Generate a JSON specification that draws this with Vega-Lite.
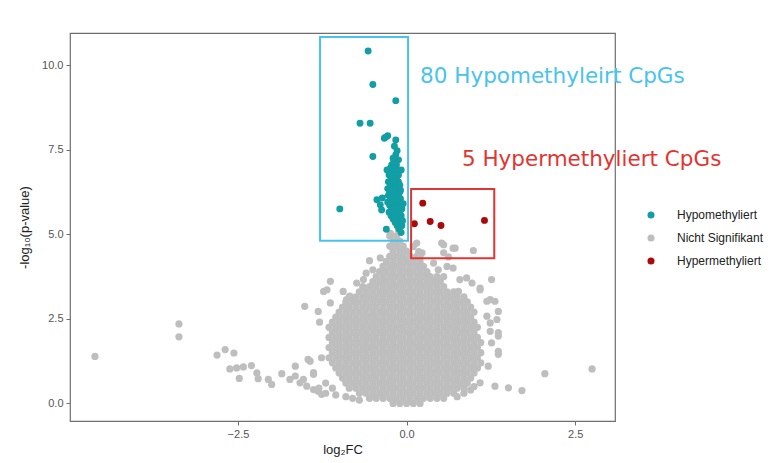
{
"$schema":"https://vega.github.io/schema/vega-lite/v6.json",
"width":545,"height":388,
"autosize":{"type":"none"},
"padding":{"left":70,"top":33,"right":163,"bottom":42},
"background":"white",
"config":{
 "view":{"stroke":"#6e6e6e","strokeWidth":1.2},
 "font":"Liberation Sans",
 "axis":{"domain":false,"grid":false,"tickColor":"#6e6e6e","tickSize":4,"labelColor":"#555555","labelFontSize":11,"titleFontSize":13,"titleFontWeight":"normal","titleColor":"#222222","labelPadding":3}
},
"datasets":{
"ns":[
{"x":-0.2,"y":0},{"x":-0.1,"y":0},{"x":0,"y":0},{"x":0.1,"y":0},{"x":0.2,"y":0},
{"x":-0.55,"y":0.15},{"x":-0.45,"y":0.15},{"x":-0.35,"y":0.15},{"x":-0.25,"y":0.15},{"x":-0.15,"y":0.15},{"x":-0.05,"y":0.15},{"x":0.05,"y":0.15},{"x":0.15,"y":0.15},{"x":0.25,"y":0.15},{"x":0.35,"y":0.15},{"x":0.45,"y":0.15},{"x":0.55,"y":0.15},
{"x":-0.7,"y":0.3},{"x":-0.6,"y":0.3},{"x":-0.5,"y":0.3},{"x":-0.4,"y":0.3},{"x":-0.3,"y":0.3},{"x":-0.2,"y":0.3},{"x":-0.1,"y":0.3},{"x":0,"y":0.3},{"x":0.1,"y":0.3},{"x":0.2,"y":0.3},{"x":0.3,"y":0.3},{"x":0.4,"y":0.3},{"x":0.5,"y":0.3},{"x":0.6,"y":0.3},{"x":0.7,"y":0.3},
{"x":-0.85,"y":0.45},{"x":-0.75,"y":0.45},{"x":-0.65,"y":0.45},{"x":-0.55,"y":0.45},{"x":-0.45,"y":0.45},{"x":-0.35,"y":0.45},{"x":-0.25,"y":0.45},{"x":-0.15,"y":0.45},{"x":-0.05,"y":0.45},{"x":0.05,"y":0.45},{"x":0.15,"y":0.45},{"x":0.25,"y":0.45},{"x":0.35,"y":0.45},{"x":0.45,"y":0.45},{"x":0.55,"y":0.45},{"x":0.65,"y":0.45},{"x":0.75,"y":0.45},{"x":0.85,"y":0.45},
{"x":-0.9,"y":0.6},{"x":-0.8,"y":0.6},{"x":-0.7,"y":0.6},{"x":-0.6,"y":0.6},{"x":-0.5,"y":0.6},{"x":-0.4,"y":0.6},{"x":-0.3,"y":0.6},{"x":-0.2,"y":0.6},{"x":-0.1,"y":0.6},{"x":0,"y":0.6},{"x":0.1,"y":0.6},{"x":0.2,"y":0.6},{"x":0.3,"y":0.6},{"x":0.4,"y":0.6},{"x":0.5,"y":0.6},{"x":0.6,"y":0.6},{"x":0.7,"y":0.6},{"x":0.8,"y":0.6},{"x":0.9,"y":0.6},
{"x":-0.95,"y":0.75},{"x":-0.85,"y":0.75},{"x":-0.75,"y":0.75},{"x":-0.65,"y":0.75},{"x":-0.55,"y":0.75},{"x":-0.45,"y":0.75},{"x":-0.35,"y":0.75},{"x":-0.25,"y":0.75},{"x":-0.15,"y":0.75},{"x":-0.05,"y":0.75},{"x":0.05,"y":0.75},{"x":0.15,"y":0.75},{"x":0.25,"y":0.75},{"x":0.35,"y":0.75},{"x":0.45,"y":0.75},{"x":0.55,"y":0.75},{"x":0.65,"y":0.75},{"x":0.75,"y":0.75},{"x":0.85,"y":0.75},{"x":0.95,"y":0.75},
{"x":-1,"y":0.9},{"x":-0.9,"y":0.9},{"x":-0.8,"y":0.9},{"x":-0.7,"y":0.9},{"x":-0.6,"y":0.9},{"x":-0.5,"y":0.9},{"x":-0.4,"y":0.9},{"x":-0.3,"y":0.9},{"x":-0.2,"y":0.9},{"x":-0.1,"y":0.9},{"x":0,"y":0.9},{"x":0.1,"y":0.9},{"x":0.2,"y":0.9},{"x":0.3,"y":0.9},{"x":0.4,"y":0.9},{"x":0.5,"y":0.9},{"x":0.6,"y":0.9},{"x":0.7,"y":0.9},{"x":0.8,"y":0.9},{"x":0.9,"y":0.9},{"x":1,"y":0.9},
{"x":-1.05,"y":1.05},{"x":-0.95,"y":1.05},{"x":-0.85,"y":1.05},{"x":-0.75,"y":1.05},{"x":-0.65,"y":1.05},{"x":-0.55,"y":1.05},{"x":-0.45,"y":1.05},{"x":-0.35,"y":1.05},{"x":-0.25,"y":1.05},{"x":-0.15,"y":1.05},{"x":-0.05,"y":1.05},{"x":0.05,"y":1.05},{"x":0.15,"y":1.05},{"x":0.25,"y":1.05},{"x":0.35,"y":1.05},{"x":0.45,"y":1.05},{"x":0.55,"y":1.05},{"x":0.65,"y":1.05},{"x":0.75,"y":1.05},{"x":0.85,"y":1.05},{"x":0.95,"y":1.05},{"x":1.05,"y":1.05},
{"x":-1.1,"y":1.2},{"x":-1,"y":1.2},{"x":-0.9,"y":1.2},{"x":-0.8,"y":1.2},{"x":-0.7,"y":1.2},{"x":-0.6,"y":1.2},{"x":-0.5,"y":1.2},{"x":-0.4,"y":1.2},{"x":-0.3,"y":1.2},{"x":-0.2,"y":1.2},{"x":-0.1,"y":1.2},{"x":0,"y":1.2},{"x":0.1,"y":1.2},{"x":0.2,"y":1.2},{"x":0.3,"y":1.2},{"x":0.4,"y":1.2},{"x":0.5,"y":1.2},{"x":0.6,"y":1.2},{"x":0.7,"y":1.2},{"x":0.8,"y":1.2},{"x":0.9,"y":1.2},{"x":1,"y":1.2},{"x":1.1,"y":1.2},
{"x":-1.15,"y":1.35},{"x":-1.05,"y":1.35},{"x":-0.95,"y":1.35},{"x":-0.85,"y":1.35},{"x":-0.75,"y":1.35},{"x":-0.65,"y":1.35},{"x":-0.55,"y":1.35},{"x":-0.45,"y":1.35},{"x":-0.35,"y":1.35},{"x":-0.25,"y":1.35},{"x":-0.15,"y":1.35},{"x":-0.05,"y":1.35},{"x":0.05,"y":1.35},{"x":0.15,"y":1.35},{"x":0.25,"y":1.35},{"x":0.35,"y":1.35},{"x":0.45,"y":1.35},{"x":0.55,"y":1.35},{"x":0.65,"y":1.35},{"x":0.75,"y":1.35},{"x":0.85,"y":1.35},{"x":0.95,"y":1.35},{"x":1.05,"y":1.35},
{"x":-1.1,"y":1.5},{"x":-1,"y":1.5},{"x":-0.9,"y":1.5},{"x":-0.8,"y":1.5},{"x":-0.7,"y":1.5},{"x":-0.6,"y":1.5},{"x":-0.5,"y":1.5},{"x":-0.4,"y":1.5},{"x":-0.3,"y":1.5},{"x":-0.2,"y":1.5},{"x":-0.1,"y":1.5},{"x":0,"y":1.5},{"x":0.1,"y":1.5},{"x":0.2,"y":1.5},{"x":0.3,"y":1.5},{"x":0.4,"y":1.5},{"x":0.5,"y":1.5},{"x":0.6,"y":1.5},{"x":0.7,"y":1.5},{"x":0.8,"y":1.5},{"x":0.9,"y":1.5},{"x":1,"y":1.5},{"x":1.1,"y":1.5},
{"x":-1.15,"y":1.65},{"x":-1.05,"y":1.65},{"x":-0.95,"y":1.65},{"x":-0.85,"y":1.65},{"x":-0.75,"y":1.65},{"x":-0.65,"y":1.65},{"x":-0.55,"y":1.65},{"x":-0.45,"y":1.65},{"x":-0.35,"y":1.65},{"x":-0.25,"y":1.65},{"x":-0.15,"y":1.65},{"x":-0.05,"y":1.65},{"x":0.05,"y":1.65},{"x":0.15,"y":1.65},{"x":0.25,"y":1.65},{"x":0.35,"y":1.65},{"x":0.45,"y":1.65},{"x":0.55,"y":1.65},{"x":0.65,"y":1.65},{"x":0.75,"y":1.65},{"x":0.85,"y":1.65},{"x":0.95,"y":1.65},{"x":1.05,"y":1.65},
{"x":-1.1,"y":1.8},{"x":-1,"y":1.8},{"x":-0.9,"y":1.8},{"x":-0.8,"y":1.8},{"x":-0.7,"y":1.8},{"x":-0.6,"y":1.8},{"x":-0.5,"y":1.8},{"x":-0.4,"y":1.8},{"x":-0.3,"y":1.8},{"x":-0.2,"y":1.8},{"x":-0.1,"y":1.8},{"x":0,"y":1.8},{"x":0.1,"y":1.8},{"x":0.2,"y":1.8},{"x":0.3,"y":1.8},{"x":0.4,"y":1.8},{"x":0.5,"y":1.8},{"x":0.6,"y":1.8},{"x":0.7,"y":1.8},{"x":0.8,"y":1.8},{"x":0.9,"y":1.8},{"x":1,"y":1.8},{"x":1.1,"y":1.8},
{"x":-1.15,"y":1.95},{"x":-1.05,"y":1.95},{"x":-0.95,"y":1.95},{"x":-0.85,"y":1.95},{"x":-0.75,"y":1.95},{"x":-0.65,"y":1.95},{"x":-0.55,"y":1.95},{"x":-0.45,"y":1.95},{"x":-0.35,"y":1.95},{"x":-0.25,"y":1.95},{"x":-0.15,"y":1.95},{"x":-0.05,"y":1.95},{"x":0.05,"y":1.95},{"x":0.15,"y":1.95},{"x":0.25,"y":1.95},{"x":0.35,"y":1.95},{"x":0.45,"y":1.95},{"x":0.55,"y":1.95},{"x":0.65,"y":1.95},{"x":0.75,"y":1.95},{"x":0.85,"y":1.95},{"x":0.95,"y":1.95},{"x":1.05,"y":1.95},
{"x":-1.1,"y":2.1},{"x":-1,"y":2.1},{"x":-0.9,"y":2.1},{"x":-0.8,"y":2.1},{"x":-0.7,"y":2.1},{"x":-0.6,"y":2.1},{"x":-0.5,"y":2.1},{"x":-0.4,"y":2.1},{"x":-0.3,"y":2.1},{"x":-0.2,"y":2.1},{"x":-0.1,"y":2.1},{"x":0,"y":2.1},{"x":0.1,"y":2.1},{"x":0.2,"y":2.1},{"x":0.3,"y":2.1},{"x":0.4,"y":2.1},{"x":0.5,"y":2.1},{"x":0.6,"y":2.1},{"x":0.7,"y":2.1},{"x":0.8,"y":2.1},{"x":0.9,"y":2.1},{"x":1,"y":2.1},
{"x":-1.15,"y":2.25},{"x":-1.05,"y":2.25},{"x":-0.95,"y":2.25},{"x":-0.85,"y":2.25},{"x":-0.75,"y":2.25},{"x":-0.65,"y":2.25},{"x":-0.55,"y":2.25},{"x":-0.45,"y":2.25},{"x":-0.35,"y":2.25},{"x":-0.25,"y":2.25},{"x":-0.15,"y":2.25},{"x":-0.05,"y":2.25},{"x":0.05,"y":2.25},{"x":0.15,"y":2.25},{"x":0.25,"y":2.25},{"x":0.35,"y":2.25},{"x":0.45,"y":2.25},{"x":0.55,"y":2.25},{"x":0.65,"y":2.25},{"x":0.75,"y":2.25},{"x":0.85,"y":2.25},{"x":0.95,"y":2.25},{"x":1.05,"y":2.25},
{"x":-1.1,"y":2.4},{"x":-1,"y":2.4},{"x":-0.9,"y":2.4},{"x":-0.8,"y":2.4},{"x":-0.7,"y":2.4},{"x":-0.6,"y":2.4},{"x":-0.5,"y":2.4},{"x":-0.4,"y":2.4},{"x":-0.3,"y":2.4},{"x":-0.2,"y":2.4},{"x":-0.1,"y":2.4},{"x":0,"y":2.4},{"x":0.1,"y":2.4},{"x":0.2,"y":2.4},{"x":0.3,"y":2.4},{"x":0.4,"y":2.4},{"x":0.5,"y":2.4},{"x":0.6,"y":2.4},{"x":0.7,"y":2.4},{"x":0.8,"y":2.4},{"x":0.9,"y":2.4},{"x":1,"y":2.4},
{"x":-1.05,"y":2.55},{"x":-0.95,"y":2.55},{"x":-0.85,"y":2.55},{"x":-0.75,"y":2.55},{"x":-0.65,"y":2.55},{"x":-0.55,"y":2.55},{"x":-0.45,"y":2.55},{"x":-0.35,"y":2.55},{"x":-0.25,"y":2.55},{"x":-0.15,"y":2.55},{"x":-0.05,"y":2.55},{"x":0.05,"y":2.55},{"x":0.15,"y":2.55},{"x":0.25,"y":2.55},{"x":0.35,"y":2.55},{"x":0.45,"y":2.55},{"x":0.55,"y":2.55},{"x":0.65,"y":2.55},{"x":0.75,"y":2.55},{"x":0.85,"y":2.55},{"x":0.95,"y":2.55},
{"x":-1,"y":2.7},{"x":-0.9,"y":2.7},{"x":-0.8,"y":2.7},{"x":-0.7,"y":2.7},{"x":-0.6,"y":2.7},{"x":-0.5,"y":2.7},{"x":-0.4,"y":2.7},{"x":-0.3,"y":2.7},{"x":-0.2,"y":2.7},{"x":-0.1,"y":2.7},{"x":0,"y":2.7},{"x":0.1,"y":2.7},{"x":0.2,"y":2.7},{"x":0.3,"y":2.7},{"x":0.4,"y":2.7},{"x":0.5,"y":2.7},{"x":0.6,"y":2.7},{"x":0.7,"y":2.7},{"x":0.8,"y":2.7},{"x":0.9,"y":2.7},{"x":1,"y":2.7},
{"x":-0.95,"y":2.85},{"x":-0.85,"y":2.85},{"x":-0.75,"y":2.85},{"x":-0.65,"y":2.85},{"x":-0.55,"y":2.85},{"x":-0.45,"y":2.85},{"x":-0.35,"y":2.85},{"x":-0.25,"y":2.85},{"x":-0.15,"y":2.85},{"x":-0.05,"y":2.85},{"x":0.05,"y":2.85},{"x":0.15,"y":2.85},{"x":0.25,"y":2.85},{"x":0.35,"y":2.85},{"x":0.45,"y":2.85},{"x":0.55,"y":2.85},{"x":0.65,"y":2.85},{"x":0.75,"y":2.85},{"x":0.85,"y":2.85},{"x":0.95,"y":2.85},
{"x":-0.9,"y":3},{"x":-0.8,"y":3},{"x":-0.7,"y":3},{"x":-0.6,"y":3},{"x":-0.5,"y":3},{"x":-0.4,"y":3},{"x":-0.3,"y":3},{"x":-0.2,"y":3},{"x":-0.1,"y":3},{"x":0,"y":3},{"x":0.1,"y":3},{"x":0.2,"y":3},{"x":0.3,"y":3},{"x":0.4,"y":3},{"x":0.5,"y":3},{"x":0.6,"y":3},{"x":0.7,"y":3},{"x":0.8,"y":3},{"x":0.9,"y":3},
{"x":-0.85,"y":3.15},{"x":-0.75,"y":3.15},{"x":-0.65,"y":3.15},{"x":-0.55,"y":3.15},{"x":-0.45,"y":3.15},{"x":-0.35,"y":3.15},{"x":-0.25,"y":3.15},{"x":-0.15,"y":3.15},{"x":-0.05,"y":3.15},{"x":0.05,"y":3.15},{"x":0.15,"y":3.15},{"x":0.25,"y":3.15},{"x":0.35,"y":3.15},{"x":0.45,"y":3.15},{"x":0.55,"y":3.15},{"x":0.65,"y":3.15},{"x":0.75,"y":3.15},{"x":0.85,"y":3.15},
{"x":-0.7,"y":3.3},{"x":-0.6,"y":3.3},{"x":-0.5,"y":3.3},{"x":-0.4,"y":3.3},{"x":-0.3,"y":3.3},{"x":-0.2,"y":3.3},{"x":-0.1,"y":3.3},{"x":0,"y":3.3},{"x":0.1,"y":3.3},{"x":0.2,"y":3.3},{"x":0.3,"y":3.3},{"x":0.4,"y":3.3},{"x":0.5,"y":3.3},{"x":0.6,"y":3.3},{"x":0.7,"y":3.3},
{"x":-0.65,"y":3.45},{"x":-0.55,"y":3.45},{"x":-0.45,"y":3.45},{"x":-0.35,"y":3.45},{"x":-0.25,"y":3.45},{"x":-0.15,"y":3.45},{"x":-0.05,"y":3.45},{"x":0.05,"y":3.45},{"x":0.15,"y":3.45},{"x":0.25,"y":3.45},{"x":0.35,"y":3.45},{"x":0.45,"y":3.45},{"x":0.55,"y":3.45},
{"x":-0.5,"y":3.6},{"x":-0.4,"y":3.6},{"x":-0.3,"y":3.6},{"x":-0.2,"y":3.6},{"x":-0.1,"y":3.6},{"x":0,"y":3.6},{"x":0.1,"y":3.6},{"x":0.2,"y":3.6},{"x":0.3,"y":3.6},{"x":0.4,"y":3.6},{"x":0.5,"y":3.6},
{"x":-0.45,"y":3.75},{"x":-0.35,"y":3.75},{"x":-0.25,"y":3.75},{"x":-0.15,"y":3.75},{"x":-0.05,"y":3.75},{"x":0.05,"y":3.75},{"x":0.15,"y":3.75},{"x":0.25,"y":3.75},{"x":0.35,"y":3.75},{"x":0.45,"y":3.75},
{"x":-0.4,"y":3.9},{"x":-0.3,"y":3.9},{"x":-0.2,"y":3.9},{"x":-0.1,"y":3.9},{"x":0,"y":3.9},{"x":0.1,"y":3.9},{"x":0.2,"y":3.9},{"x":0.3,"y":3.9},
{"x":-0.35,"y":4.05},{"x":-0.25,"y":4.05},{"x":-0.15,"y":4.05},{"x":-0.05,"y":4.05},{"x":0.05,"y":4.05},{"x":0.15,"y":4.05},{"x":0.25,"y":4.05},
{"x":-0.3,"y":4.2},{"x":-0.2,"y":4.2},{"x":-0.1,"y":4.2},{"x":0,"y":4.2},{"x":0.1,"y":4.2},{"x":0.2,"y":4.2},
{"x":-0.25,"y":4.35},{"x":-0.15,"y":4.35},{"x":-0.05,"y":4.35},{"x":0.05,"y":4.35},{"x":0.15,"y":4.35},
{"x":-0.2,"y":4.5},{"x":-0.1,"y":4.5},{"x":0,"y":4.5},
{"x":-0.25,"y":4.65},{"x":-0.15,"y":4.65},{"x":-0.05,"y":4.65},
{"x":-0.2,"y":4.8},{"x":-0.1,"y":4.8},
{"x":-0.25,"y":4.95},{"x":-0.15,"y":4.95},
{"x":-4.62,"y":1.39},
{"x":-3.375,"y":2.35},{"x":-3.375,"y":1.97},
{"x":-2.81,"y":1.43},{"x":-2.69,"y":1.59},{"x":-2.56,"y":1.49},
{"x":-2.62,"y":1.02},{"x":-2.52,"y":1.05},{"x":-2.42,"y":1.08},{"x":-2.3,"y":1.12},
{"x":-2.48,"y":0.74},{"x":-2.22,"y":0.9},{"x":-2.2,"y":0.73},{"x":-2.05,"y":0.71},{"x":-2,"y":0.56},
{"x":-1.85,"y":0.88},{"x":-1.73,"y":0.71},{"x":-1.65,"y":0.81},{"x":-1.58,"y":0.61},
{"x":-1.51,"y":2.87},{"x":-1.46,"y":1.3},{"x":-1.38,"y":0.86},{"x":-1.48,"y":0.51},{"x":-1.38,"y":0.41},{"x":-1.31,"y":0.36},{"x":-1.26,"y":0.27},
{"x":-1.31,"y":2.72},{"x":-1.29,"y":2.4},{"x":-1.26,"y":1.35},{"x":-1.23,"y":3.31},{"x":-1.18,"y":3.36},{"x":-1.13,"y":2.97},{"x":-1.13,"y":3.61},
{"x":-0.55,"y":4.22},{"x":-0.39,"y":4.3},{"x":-0.74,"y":3.56},{"x":-0.64,"y":3.66},{"x":-0.94,"y":3.31},{"x":-0.84,"y":3.17},{"x":-0.89,"y":3.07},
{"x":-1.65,"y":1.1},{"x":-1.43,"y":1.25},{"x":-1.53,"y":0.71},{"x":-1.38,"y":0.91},
{"x":-1.2,"y":0.3},{"x":-1.05,"y":0.25},{"x":-0.9,"y":0.2},{"x":-0.8,"y":0.15},{"x":-0.7,"y":0.1},{"x":-1.3,"y":0.45},{"x":-1.2,"y":0.6},{"x":-1.1,"y":0.45},
{"x":0.75,"y":0.2},{"x":0.85,"y":0.3},{"x":0.95,"y":0.4},{"x":1,"y":0.5},
{"x":1.09,"y":0.61},{"x":1.31,"y":0.51},{"x":1.51,"y":0.46},{"x":1.71,"y":0.38},{"x":2.05,"y":0.88},{"x":2.75,"y":1.02},
{"x":1.19,"y":3.02},{"x":1.31,"y":3.02},{"x":1.36,"y":2.72},{"x":1.24,"y":2.38},{"x":1.36,"y":2.09},{"x":1.26,"y":1.79},{"x":1.36,"y":1.54},{"x":1.36,"y":1.45},{"x":1.21,"y":1.1},
{"x":0.97,"y":3.56},{"x":1.09,"y":3.41},{"x":0.77,"y":3.31},{"x":0.79,"y":3.66},{"x":0.89,"y":3.71},{"x":1.26,"y":3.66},{"x":1.09,"y":3.36},
{"x":1.24,"y":3.07},{"x":1.19,"y":2.58},{"x":1.34,"y":2.48},{"x":1.24,"y":2.13},{"x":1.36,"y":1.99},
{"x":0.4,"y":4.15},{"x":0.47,"y":3.95},{"x":0.6,"y":4.05},{"x":0.69,"y":4},
{"x":0.15,"y":4.74},{"x":0.23,"y":4.45},{"x":0.55,"y":4.69},{"x":0.55,"y":4.45},{"x":0.69,"y":4.59},{"x":0.99,"y":4.52},{"x":0.52,"y":4.74},{"x":0.72,"y":4.59},{"x":0.62,"y":4.33},{"x":0.1,"y":4.64},{"x":0.18,"y":4.49},{"x":0.2,"y":4.35},
{"x":-0.24,"y":5.03},{"x":-0.12,"y":5.13},{"x":-0.17,"y":4.84},
{"x":0.3,"y":3.85},{"x":0.55,"y":3.75},{"x":-0.6,"y":3.85},{"x":-0.5,"y":3.95}
],
"hypo":[
{"x":-0.57,"y":10.42},{"x":-0.5,"y":9.43},{"x":-0.16,"y":8.95},{"x":-0.69,"y":8.28},{"x":-0.54,"y":8.28},
{"x":-0.33,"y":7.84},{"x":-0.28,"y":7.91},{"x":-0.31,"y":7.87},{"x":-0.16,"y":7.79},{"x":-0.14,"y":7.47},
{"x":-0.16,"y":7.35},{"x":-0.5,"y":7.3},{"x":-0.99,"y":5.75},{"x":-0.44,"y":6.02},{"x":-0.39,"y":5.87},
{"x":-0.37,"y":5.72},{"x":-0.36,"y":6.07},
{"x":-0.19,"y":7.15},
{"x":-0.22,"y":7.05},{"x":-0.15,"y":7.05},
{"x":-0.24,"y":6.95},{"x":-0.17,"y":6.95},
{"x":-0.2,"y":6.85},{"x":-0.13,"y":6.85},
{"x":-0.26,"y":6.75},{"x":-0.18,"y":6.75},{"x":-0.12,"y":6.75},
{"x":-0.23,"y":6.65},{"x":-0.15,"y":6.65},
{"x":-0.27,"y":6.55},{"x":-0.2,"y":6.55},{"x":-0.12,"y":6.55},
{"x":-0.24,"y":6.45},{"x":-0.16,"y":6.45},{"x":-0.1,"y":6.45},
{"x":-0.28,"y":6.35},{"x":-0.21,"y":6.35},{"x":-0.13,"y":6.35},
{"x":-0.25,"y":6.25},{"x":-0.18,"y":6.25},{"x":-0.1,"y":6.25},
{"x":-0.27,"y":6.15},{"x":-0.2,"y":6.15},{"x":-0.12,"y":6.15},
{"x":-0.24,"y":6.05},{"x":-0.16,"y":6.05},{"x":-0.09,"y":6.05},
{"x":-0.28,"y":5.95},{"x":-0.2,"y":5.95},{"x":-0.13,"y":5.95},
{"x":-0.25,"y":5.85},{"x":-0.17,"y":5.85},{"x":-0.1,"y":5.85},
{"x":-0.22,"y":5.75},{"x":-0.14,"y":5.75},{"x":-0.07,"y":5.75},
{"x":-0.26,"y":5.65},{"x":-0.18,"y":5.65},{"x":-0.11,"y":5.65},
{"x":-0.23,"y":5.55},{"x":-0.15,"y":5.55},{"x":-0.08,"y":5.55},
{"x":-0.2,"y":5.45},{"x":-0.12,"y":5.45},
{"x":-0.17,"y":5.35},{"x":-0.09,"y":5.35},
{"x":-0.14,"y":5.25},{"x":-0.07,"y":5.25},
{"x":-0.11,"y":5.15},{"x":-0.08,"y":5.05},
{"x":-0.18,"y":7.6},{"x":-0.2,"y":7.25},{"x":-0.12,"y":7.2},{"x":-0.1,"y":5.6},{"x":-0.06,"y":5.4},
{"x":-0.3,"y":5.15},{"x":-0.29,"y":6.9},{"x":-0.09,"y":6.3},{"x":-0.08,"y":6.9},{"x":-0.05,"y":5.9}
],
"hyper":[
{"x":0.24,"y":5.92},{"x":0.116,"y":5.31},{"x":0.35,"y":5.38},{"x":0.51,"y":5.26},{"x":1.155,"y":5.41}
],
"boxhypo":[{"x1":-1.283,"x2":0.022,"y1":4.81,"y2":10.83}],
"boxhyper":[{"x1":0.067,"x2":1.3,"y1":4.29,"y2":6.34}],
"labhypo":[{"x":0.2,"y":9.64,"t":"80 Hypomethyleirt CpGs"}],
"labhyper":[{"x":0.82,"y":7.2,"t":"5 Hypermethyliert CpGs"}]
},
"layer":[
{"data":{"name":"ns"},
 "mark":{"type":"point","filled":true,"opacity":1,"size":52,"strokeWidth":0},
 "encoding":{
  "x":{"field":"x","type":"quantitative","scale":{"domain":[-4.99,3.09],"nice":false,"zero":false},"axis":{"values":[-2.5,0,2.5],"format":".1f","title":"log₂FC","titlePadding":4}},
  "y":{"field":"y","type":"quantitative","scale":{"domain":[-0.52,10.95],"nice":false,"zero":false},"axis":{"values":[0,2.5,5,7.5,10],"format":".1f","title":"-log₁₀(p-value)","titlePadding":10}},
  "color":{"datum":"Nicht Signifikant","type":"nominal","scale":{"domain":["Hypomethyliert","Nicht Signifikant","Hypermethyliert"],"range":["#119ea5","#bebebe","#aa0a0a"]},
   "legend":{"title":null,"orient":"none","legendX":575,"legendY":176,"symbolType":"circle","symbolSize":50,"labelFontSize":12,"labelColor":"#222222","labelOffset":20,"rowPadding":11,"padding":0}}
 }},
{"data":{"name":"hypo"},
 "mark":{"type":"point","filled":true,"opacity":1,"size":48,"strokeWidth":0},
 "encoding":{
  "x":{"field":"x","type":"quantitative"},
  "y":{"field":"y","type":"quantitative"},
  "color":{"datum":"Hypomethyliert","type":"nominal"}
 }},
{"data":{"name":"hyper"},
 "mark":{"type":"point","filled":true,"opacity":1,"size":48,"strokeWidth":0},
 "encoding":{
  "x":{"field":"x","type":"quantitative"},
  "y":{"field":"y","type":"quantitative"},
  "color":{"datum":"Hypermethyliert","type":"nominal"}
 }},
{"data":{"name":"boxhypo"},
 "mark":{"type":"rect","fillOpacity":0,"fill":"white","stroke":"#48c3ee","strokeWidth":2},
 "encoding":{"x":{"field":"x1","type":"quantitative"},"x2":{"field":"x2"},"y":{"field":"y1","type":"quantitative"},"y2":{"field":"y2"}}},
{"data":{"name":"boxhyper"},
 "mark":{"type":"rect","fillOpacity":0,"fill":"white","stroke":"#e3342f","strokeWidth":2},
 "encoding":{"x":{"field":"x1","type":"quantitative"},"x2":{"field":"x2"},"y":{"field":"y1","type":"quantitative"},"y2":{"field":"y2"}}},
{"data":{"name":"labhypo"},
 "mark":{"type":"text","align":"left","baseline":"middle","font":"DejaVu Sans","fontSize":21.5,"color":"#48c3ee"},
 "encoding":{"x":{"field":"x","type":"quantitative"},"y":{"field":"y","type":"quantitative"},"text":{"field":"t"}}},
{"data":{"name":"labhyper"},
 "mark":{"type":"text","align":"left","baseline":"middle","font":"DejaVu Sans","fontSize":21.5,"color":"#e3342f"},
 "encoding":{"x":{"field":"x","type":"quantitative"},"y":{"field":"y","type":"quantitative"},"text":{"field":"t"}}}
]
}
